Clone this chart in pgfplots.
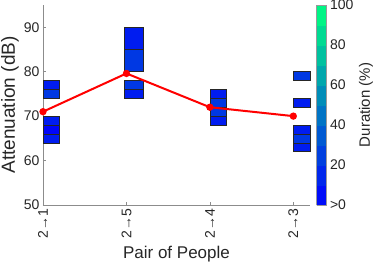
\documentclass[border=0pt]{standalone}
\usepackage{pgfplots}
\pgfplotsset{compat=1.18}
\usepackage{fontspec}
\setmainfont{Liberation Sans}
\definecolor{cZ}{rgb}{0,0.02,0.98}
\definecolor{cA}{rgb}{0,0.11,0.94}
\definecolor{cB}{rgb}{0,0.22,0.89}
\definecolor{txt}{rgb}{0.15,0.15,0.15}
\newcommand{\seg}[5]{\addplot[fill=#5, draw=black!85, line width=0.55pt, forget plot] coordinates {(#1,#3) (#2,#3) (#2,#4) (#1,#4)} -- cycle;}
\begin{document}
\begin{tikzpicture}
\begin{axis}[
  scale only axis,
  width=267pt, height=200pt,
  xmin=1, xmax=4.2, ymin=50, ymax=95,
  axis lines*=left,
  axis line style={black!45, line width=0.6pt},
  xtick={1,2,3,4},
  xticklabels={2→1,2→5,2→4,2→3},
  ytick={50,60,70,80,90},
  tick align=inside,
  major tick length=3pt,
  tick style={black!45, line width=0.6pt},
  /pgf/number format/assume math mode=true,
  tick label style={font=\fontsize{14}{16}\selectfont, text=txt},
  xticklabel style={rotate=90, anchor=east},
  xlabel={Pair of People},
  ylabel={Attenuation (dB)},
  label style={font=\fontsize{17}{19}\selectfont, text=txt},
  xlabel style={at={(axis description cs:0.5,-0.245)}, anchor=center},
  ylabel style={font=\fontsize{19}{22}\selectfont, at={(axis description cs:-0.1236,0.5)}, anchor=center},
  clip=false,
  colormap={mywinter}{rgb=(0,0,1) rgb=(0,1,0.5)},
  point meta min=0, point meta max=100,
  colorbar, colorbar sampled,
  colorbar style={
    at={(parent axis.north east)}, anchor=north west, xshift=-2pt,
    width=10pt,
    samples=11,
    ytick={0,20,40,60,80,100},
    yticklabels={>0,20,40,60,80,100},
    major tick length=0pt,
    axis line style={black!40, line width=0.5pt},
    /pgf/number format/assume math mode=true,
    yticklabel style={font=\fontsize{14}{16}\selectfont, text=txt},
    ylabel={Duration (\%)},
    ylabel style={font=\fontsize{15}{18}\selectfont, text=txt, at={(axis description cs:1,0.5)}, anchor=north, yshift=-29pt},
  },
]
% 2->1
\seg{1}{1.2}{74}{76}{cB}
\seg{1}{1.2}{76}{78}{cA}
\seg{1}{1.2}{64}{66}{cA}
\seg{1}{1.2}{66}{68}{cZ}
\seg{1}{1.2}{68}{70}{cA}
% 2->5
\seg{1.97}{2.2}{74}{76}{cA}
\seg{1.97}{2.2}{76}{78}{cB}
\seg{1.97}{2.2}{80}{85}{cB}
\seg{1.97}{2.2}{85}{90}{cA}
% 2->4
\seg{3}{3.2}{68}{70}{cA}
\seg{3}{3.2}{70}{72}{cB}
\seg{3}{3.2}{72}{74}{cB}
\seg{3}{3.2}{74}{76}{cA}
% 2->3
\seg{4}{4.2}{62}{64}{cA}
\seg{4}{4.2}{64}{66}{cB}
\seg{4}{4.2}{66}{68}{cA}
\seg{4}{4.2}{72}{74}{cA}
\seg{4}{4.2}{78}{80}{cB}
% mean line
\addplot[red, line width=2pt, mark=*, mark size=2.6pt, mark options={fill=red, draw=red}] coordinates {(1,71) (2,79.6) (3,72) (4,70)};
\end{axis}
\pgfresetboundingbox
\useasboundingbox (-43pt,-61pt) rectangle (331pt,205pt);
\end{tikzpicture}
\end{document}
